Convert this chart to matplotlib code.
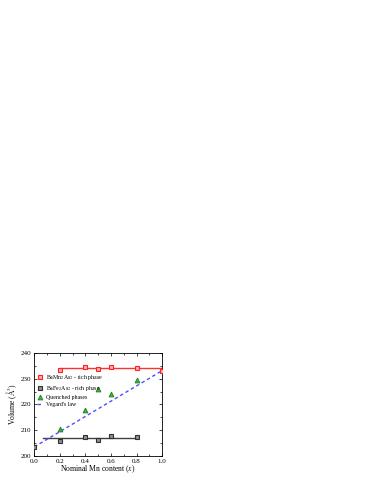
import matplotlib
matplotlib.use('Agg')
import matplotlib.pyplot as plt
from matplotlib.ticker import MultipleLocator

plt.rcParams['font.family'] = ['Liberation Serif', 'DejaVu Serif']
plt.rcParams['mathtext.fontset'] = 'stix'

# data
x_mn = [0.2, 0.4, 0.5, 0.6, 0.8, 1.0]
v_mn = [233.5, 234.5, 233.8, 234.6, 234.2, 233.1]
x_fe = [0.0, 0.2, 0.4, 0.5, 0.6, 0.8]
v_fe = [203.5, 205.7, 207.5, 206.3, 207.8, 207.3]
x_q = [0.2, 0.4, 0.5, 0.6, 0.8]
v_q = [210.3, 218.0, 226.0, 224.0, 229.3]
x_vegard = [0.0, 1.0]
v_vegard = [203.5, 233.1]
x_mn_fit = [0.2, 1.0]
v_mn_fit = [234.1, 234.1]
x_fe_fit = [0.07, 0.8]
v_fe_fit = [207.0, 207.0]

fig = plt.figure(figsize=(3.72, 4.82), dpi=100)
ax = fig.add_axes([0.092, 0.054, 0.344, 0.214])

ax.plot(x_mn_fit, v_mn_fit, color='#ff3030', lw=1.0, zorder=2)
ax.plot(x_fe_fit, v_fe_fit, color='#404040', lw=1.0, zorder=2)
ax.plot(x_vegard, v_vegard, color='#5050ff', lw=1.0, ls=(0, (2.5, 2)), label="Vegard's law", zorder=2)

ax.plot(x_mn, v_mn, 's', ms=3, mfc='#ffb0b0', mec='#ff2020', mew=0.8, label='BaMn$_2$As$_2$ - rich phase', zorder=3)
ax.plot(x_fe, v_fe, 's', ms=3, mfc='#909090', mec='#303030', mew=0.8, label='BaFe$_2$As$_2$ - rich phase', zorder=3)
ax.plot(x_q, v_q, '^', ms=3.5, mfc='#40b040', mec='#208020', mew=0.6, label='Quenched phases', zorder=3)

ax.set_xlim(0, 1.0)
ax.set_ylim(200, 240)
ax.xaxis.set_major_locator(MultipleLocator(0.2))
ax.xaxis.set_minor_locator(MultipleLocator(0.1))
ax.yaxis.set_major_locator(MultipleLocator(10))
ax.yaxis.set_minor_locator(MultipleLocator(5))
ax.tick_params(which='both', direction='in', top=True, right=True, labelsize=5, width=0.5, pad=2)
ax.tick_params(which='major', length=2.5)
ax.tick_params(which='minor', length=1.5)
ax.xaxis.set_major_formatter(plt.FuncFormatter(lambda v, p: '%.1f' % v))
for s in ax.spines.values():
    s.set_linewidth(0.6)

ax.set_xlabel('Nominal Mn content ($x$)', fontsize=5.5, labelpad=0)
ax.set_ylabel('Volume ($\\mathrm{\\AA}^3$)', fontsize=5.5, labelpad=1)

h, l = ax.get_legend_handles_labels()
order = [1, 2, 3, 0]
ax.legend([h[i] for i in order], [l[i] for i in order], loc='upper left',
          bbox_to_anchor=(-0.01, 0.84), frameon=False, fontsize=4.2,
          handlelength=1.0, handletextpad=0.5, labelspacing=0.3, borderaxespad=0.3)

fig.savefig('out.png', dpi=100)
